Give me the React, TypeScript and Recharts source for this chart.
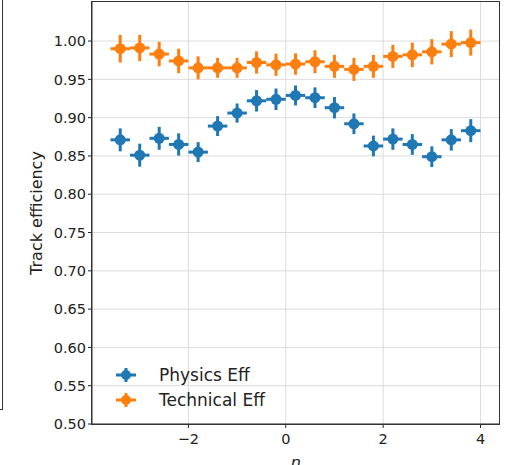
import { ScatterChart, Scatter, XAxis, YAxis, CartesianGrid, ErrorBar } from 'recharts';

const etaBins = [-3.4, -3.0, -2.6, -2.2, -1.8, -1.4, -1.0, -0.6, -0.2, 0.2, 0.6, 1.0, 1.4, 1.8, 2.2, 2.6, 3.0, 3.4, 3.8];
const etaErr = 0.2;

const physicsEff = [0.871, 0.851, 0.873, 0.865, 0.855, 0.889, 0.906, 0.922, 0.924, 0.929, 0.926, 0.913, 0.892, 0.863, 0.872, 0.865, 0.849, 0.871, 0.883];
const physicsErr = [0.015, 0.015, 0.015, 0.0145, 0.013, 0.013, 0.0125, 0.014, 0.014, 0.013, 0.0135, 0.014, 0.0135, 0.0135, 0.014, 0.0135, 0.0135, 0.014, 0.015];

const technicalEff = [0.99, 0.991, 0.983, 0.974, 0.965, 0.965, 0.965, 0.972, 0.969, 0.97, 0.973, 0.967, 0.963, 0.967, 0.98, 0.982, 0.986, 0.996, 0.998];
const technicalErr = [0.018, 0.017, 0.016, 0.016, 0.015, 0.013, 0.013, 0.0145, 0.0145, 0.014, 0.015, 0.015, 0.015, 0.015, 0.015, 0.016, 0.0165, 0.017, 0.017];

const xTicks = [-2, 0, 2, 4];
const yTicks = [0.5, 0.55, 0.6, 0.65, 0.7, 0.75, 0.8, 0.85, 0.9, 0.95, 1.0];

const BLUE = '#1f77b4';
const ORANGE = '#ff7f0e';
const FONT = '"DejaVu Sans", sans-serif';

const physicsData = etaBins.map((x, i) => ({ x, y: physicsEff[i], ex: etaErr, ey: physicsErr[i] }));
const technicalData = etaBins.map((x, i) => ({ x, y: technicalEff[i], ex: etaErr, ey: technicalErr[i] }));

const dot = (color: string) => (props: any) => <circle cx={props.cx} cy={props.cy} r={5.5} fill={color} />;

function LegendBox() {
  const items = [
    { name: 'Physics Eff', color: BLUE },
    { name: 'Technical Eff', color: ORANGE },
  ];
  return (
    <div style={{ position: 'absolute', left: 115, top: 362, fontFamily: FONT, fontSize: 17, color: '#222' }}>
      {items.map((it) => (
        <div key={it.name} style={{ display: 'flex', alignItems: 'center', height: 25 }}>
          <svg width={22} height={18} style={{ marginRight: 22 }}>
            <line x1={1} y1={9} x2={21} y2={9} stroke={it.color} strokeWidth={3} />
            <line x1={11} y1={2} x2={11} y2={16} stroke={it.color} strokeWidth={3} />
            <circle cx={11} cy={9} r={5} fill={it.color} />
          </svg>
          <span>{it.name}</span>
        </div>
      ))}
    </div>
  );
}

export default function App() {
  return (
    <div style={{ position: 'absolute', left: 0, top: 0, width: 509, height: 465, overflow: 'hidden', background: '#fff' }}>
      <div style={{ position: 'absolute', left: -10, top: -2, width: 11, height: 410, border: '1px solid #333' }} />
      <ScatterChart width={509} height={465} margin={{ top: 2, right: 10, bottom: 0, left: 0 }}>
        <CartesianGrid stroke="#dcdcdc" strokeWidth={1} horizontalValues={yTicks} verticalValues={xTicks} />
        <XAxis
          type="number"
          dataKey="x"
          domain={[-3.98, 4.38]}
          ticks={xTicks}
          height={41}
          tickSize={4}
          tickLine={{ stroke: '#222' }}
          axisLine={{ stroke: '#333' }}
          tickFormatter={(v: number) => (v < 0 ? `\u2212${Math.abs(v)}` : `${v}`)}
          tick={{ fill: '#222', fontSize: 14.5, fontFamily: FONT, dy: 4 }}
          label={{ value: 'η', position: 'insideBottom', offset: -3, fill: '#222', fontSize: 16, fontStyle: 'italic', fontFamily: FONT }}
        />
        <YAxis
          type="number"
          dataKey="y"
          domain={[0.5, 1.051]}
          ticks={yTicks}
          width={92}
          tickSize={4}
          tickLine={{ stroke: '#222' }}
          axisLine={{ stroke: '#333' }}
          tickFormatter={(v: number) => v.toFixed(2)}
          tick={{ fill: '#222', fontSize: 14.5, fontFamily: FONT }}
          label={{ value: 'Track efficiency', angle: -90, position: 'center', dx: -10, fill: '#222', fontSize: 16, fontFamily: FONT }}
        />
        <Scatter name="Physics Eff" data={physicsData} fill={BLUE} shape={dot(BLUE)} isAnimationActive={false}>
          <ErrorBar dataKey="ex" direction="x" width={0} stroke={BLUE} strokeWidth={3} />
          <ErrorBar dataKey="ey" direction="y" width={0} stroke={BLUE} strokeWidth={3} />
        </Scatter>
        <Scatter name="Technical Eff" data={technicalData} fill={ORANGE} shape={dot(ORANGE)} isAnimationActive={false}>
          <ErrorBar dataKey="ex" direction="x" width={0} stroke={ORANGE} strokeWidth={3} />
          <ErrorBar dataKey="ey" direction="y" width={0} stroke={ORANGE} strokeWidth={3} />
        </Scatter>
      </ScatterChart>
      <LegendBox />
      <div style={{ position: 'absolute', left: 91, top: 1, width: 407, height: 422, border: '1px solid #333', pointerEvents: 'none' }} />
    </div>
  );
}
